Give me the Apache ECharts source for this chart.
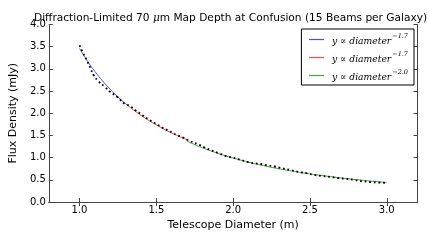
<!DOCTYPE html>
<html><head><meta charset="utf-8">
<script src="https://cdn.jsdelivr.net/npm/echarts@6/dist/echarts.min.js"></script>
<style>html,body{margin:0;padding:0;background:#fff}#c{width:427px;height:245px}</style>
</head><body><div id="c"></div>
<script>
// Measured data (dotted black line)
var dataX = [1.0,1.024,1.049,1.072,1.092,1.126,1.163,1.2,1.248,1.294,1.325,1.366,1.408,1.45,1.495,1.537,1.584,1.626,1.674,1.72,1.765,1.813,1.86,1.906,1.951,2.0,2.047,2.097,2.145,2.19,2.217,2.27,2.32,2.373,2.425,2.477,2.53,2.58,2.633,2.684,2.736,2.788,2.84,2.892,2.944,3.0];
var dataY = [3.53,3.35,3.18,3.01,2.86,2.71,2.60,2.48,2.36,2.21,2.17,2.06,1.96,1.86,1.77,1.68,1.60,1.52,1.45,1.37,1.31,1.23,1.16,1.10,1.04,1.00,0.95,0.90,0.87,0.85,0.83,0.80,0.76,0.72,0.68,0.65,0.61,0.585,0.565,0.54,0.52,0.50,0.47,0.45,0.44,0.43];
// Fit curves
var blueX = [1.0,1.05,1.1,1.15,1.2,1.25,1.3,1.32];
var blueY = [3.46,3.185,2.942,2.728,2.538,2.368,2.215,2.158];
var redX = [1.31,1.4,1.5,1.6,1.7,1.71];
var redY = [2.186,1.953,1.737,1.556,1.404,1.39];
var greenX = [1.7,1.8,1.9,2.0,2.2,2.4,2.6,2.8,3.0];
var greenY = [1.370,1.222,1.097,0.990,0.818,0.6875,0.586,0.505,0.440];
var legendLabels = {b:'\u22121.7', r:'\u22121.7', g:'\u22122.0'};
var xTicks = [1.0,1.5,2.0,2.5,3.0];

function pairs(xs, ys){ return xs.map(function(x,i){return [x, ys[i]];}); }

var cBlue = '#4a4aff', cRed = '#ff4a4a', cGreen = '#4aa04a';
var chart = echarts.init(document.getElementById('c'));
var axisCol = '#444';
var font = 'DejaVu Sans';
function legItem(n, c){ return {name:n, itemStyle:{color:c, opacity:0, borderWidth:0}, lineStyle:{color:c, width:1.2, opacity:1}}; }
chart.setOption({
  animation:false,
  graphic:[{
    type:'text', left:34, top:13, z:10,
    style:{
      text:'Diffraction-Limited 70 {i|\u03bc}m Map Depth at Confusion (15 Beams per Galaxy)',
      fontFamily:font, fontSize:10.6, fill:'#000',
      rich:{i:{fontFamily:'DejaVu Serif', fontStyle:'italic', fontSize:10.6, fill:'#000'}}
    }
  }],
  grid:{left:33, right:9.5, top:24.5, bottom:43, containLabel:false},
  legend:{
    right:13, top:29, orient:'vertical', itemGap:3, itemWidth:15, itemHeight:8,
    backgroundColor:'#fff', borderColor:'#000', borderWidth:1, borderRadius:0,
    padding:[3,6,2,7],
    data:[legItem('b', cBlue), legItem('r', cRed), legItem('g', cGreen)],
    formatter:function(n){ return '{a|y \u221d diameter}{s|'+legendLabels[n]+'}'; },
    textStyle:{fontFamily:'DejaVu Serif', fontStyle:'italic', fontSize:9.2, color:'#000', lineHeight:15,
      rich:{a:{fontFamily:'DejaVu Serif', fontStyle:'italic', fontSize:9.2, color:'#000', lineHeight:15, padding:[4,0,0,3]},
            s:{fontFamily:'DejaVu Serif', fontSize:6.5, color:'#000', padding:[0,0,6,1]}}}
  },
  xAxis:[{
    type:'value', min:0.8, max:3.2,
    name:'Telescope Diameter (m)', nameLocation:'middle', nameGap:18,
    nameTextStyle:{fontFamily:font, fontSize:11, color:'#000'},
    axisLine:{lineStyle:{color:axisCol, width:1}},
    axisTick:{show:true, inside:true, length:4, customValues:xTicks, lineStyle:{color:axisCol}},
    axisLabel:{customValues:xTicks, formatter:function(v){return v.toFixed(1);}, margin:3,
      fontFamily:font, fontSize:10, color:'#000'},
    splitLine:{show:false}
  },{
    type:'value', min:0.8, max:3.2, position:'top',
    axisLine:{show:true, lineStyle:{color:axisCol, width:1}},
    axisTick:{show:true, inside:true, length:4, customValues:xTicks, lineStyle:{color:axisCol}},
    axisLabel:{show:false}, splitLine:{show:false}
  }],
  yAxis:[{
    type:'value', min:0, max:4, interval:0.5,
    name:'Flux Density (mJy)', nameLocation:'middle', nameGap:24,
    nameTextStyle:{fontFamily:font, fontSize:11, color:'#000'},
    axisLine:{show:true, lineStyle:{color:axisCol, width:1}},
    axisTick:{show:true, inside:true, length:4, lineStyle:{color:axisCol}},
    axisLabel:{formatter:function(v){return v.toFixed(1);}, margin:3,
      fontFamily:font, fontSize:10, color:'#000'},
    splitLine:{show:false}
  },{
    type:'value', min:0, max:4, interval:0.5, position:'right',
    axisLine:{show:true, lineStyle:{color:axisCol, width:1}},
    axisTick:{show:true, inside:true, length:4, lineStyle:{color:axisCol}},
    axisLabel:{show:false}, splitLine:{show:false}
  }],
  series:[
    {name:'b', type:'line', data:pairs(blueX, blueY), smooth:true, symbol:'none',
     lineStyle:{color:cBlue, width:1}, itemStyle:{color:cBlue}, z:2},
    {name:'r', type:'line', data:pairs(redX, redY), smooth:true, symbol:'none',
     lineStyle:{color:cRed, width:1}, itemStyle:{color:cRed}, z:2},
    {name:'g', type:'line', data:pairs(greenX, greenY), smooth:true, symbol:'none',
     lineStyle:{color:cGreen, width:1}, itemStyle:{color:cGreen}, z:2},
    {name:'data', type:'line', data:pairs(dataX, dataY), smooth:true, symbol:'none',
     lineStyle:{color:'#000', width:1.8, type:[1.8,2.8]}, z:3}
  ]
});
</script></body></html>
